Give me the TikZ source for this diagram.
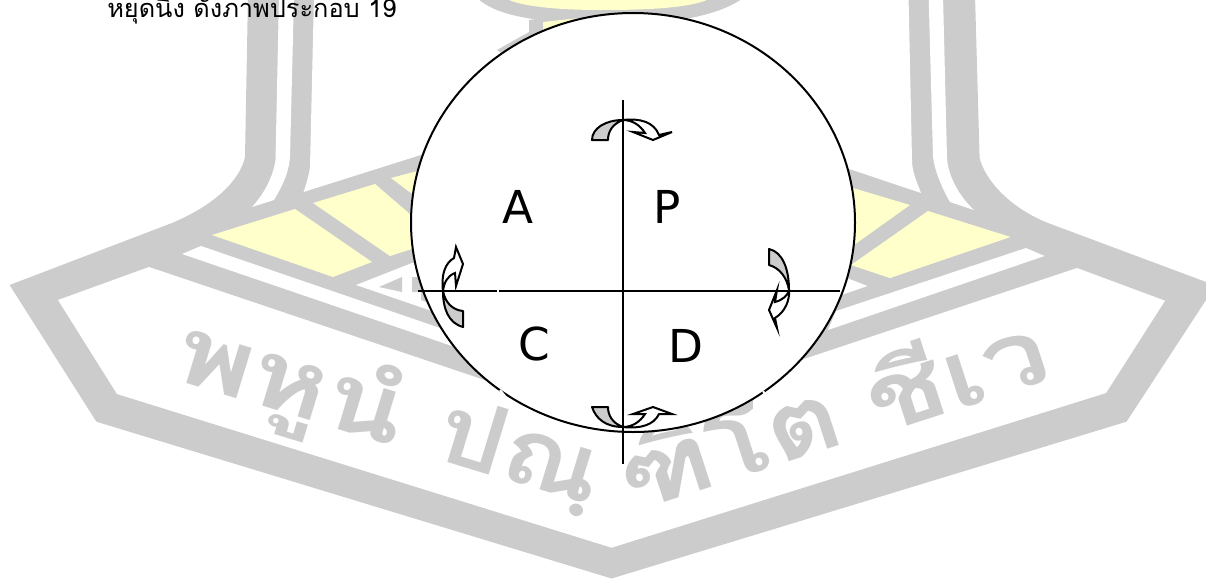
\documentclass[tikz,border=0pt]{standalone}
\usepackage{fontspec}
\setmainfont{DejaVu Sans}
\newfontfamily\thaifont[Script=Thai]{Loma}
\definecolor{wmgrey}{HTML}{CCCCCC}
\definecolor{wmyellow}{HTML}{FFFFCC}
\newcommand{\wide}[2][1.24]{\scalebox{#1}[1]{#2}}
\tikzset{
  band/.style={fill=wmgrey,draw=none},
  gap/.style={fill=white,draw=none},
  pale/.style={fill=wmyellow,draw=none},
  letter/.style={font=\fontsize{34}{40}\selectfont,inner sep=0pt,text=black},
  axis/.style={draw=black,line width=1.5pt},
  crescent/.style={fill=wmgrey,draw=black,line width=1.5pt,line join=round},
  swoop/.style={fill=white,draw=black,line width=1.5pt,line join=miter},
  motto/.style={font=\thaifont\bfseries\fontsize{71}{85}\selectfont,text=wmgrey,inner sep=0pt,anchor=base west}
}
\begin{document}
\begin{tikzpicture}[x=0.75pt,y=-0.75pt]
\useasboundingbox (0,0) rectangle (1206,579);
\clip (0,0) rectangle (1206,579);
% watermark body
\path[band] (9.6,285) -- (172,223) .. controls (215,205) and (240,180) .. (245,157) -- (248,-5) -- (975,-5) -- (979.6,158) .. controls (985,180) and (1010,208) .. (1048,223) -- (1215.5,285.5) -- (1126.5,421.7) -- (611.6,578.5) -- (96.4,421.7) -- cycle;
% white interiors
\path[gap] (314,-5) -- (310,167) .. controls (309,175) and (306,185) .. (303.5,192) -- (620,92) -- (921,193) .. controls (917,182) and (912,172) .. (912,160) -- (908.5,-5) -- cycle;
\path[gap] (279,-5) -- (275.5,160) .. controls (273,178) and (263,195) .. (252,207) -- (274,200) .. controls (283,185) and (289,172) .. (290,157) -- (294,-5) -- cycle;
\path[gap] (928.6,-5) -- (933,157) .. controls (935,172) and (942,188) .. (950,202) -- (974,210) .. controls (958,195) and (948,175) .. (947,158) -- (943,-5) -- cycle;
\path[gap] (149,267) -- (58,300) -- (117,394) -- (611.6,547.7) -- (1106,393) -- (1165,300.7) -- (1077,268) -- (780,367) -- (640,300) -- (520,392) -- cycle;
\path[gap] (182,254) -- (201,246) -- (440,328) -- (455,347) -- cycle;
\path[gap] (1026,248) -- (1044.5,256) -- (828,330) -- (836,311) -- cycle;
\path[gap] (356,285) -- (412,263) -- (445,263) -- (445,316) -- (429,310) -- cycle;
\path[gap] (847,278) -- (867.5,286) -- (841.6,295) -- (830,290) -- cycle;
\path[band] (379,287) -- (402,277) -- (402,292) -- cycle;
\path[band] (412,277) -- (430,277) -- (430,303) -- (421,300) -- (421,292) -- (412,292) -- cycle;
% yellow panels
\path[pale] (212,235) -- (295,209) -- (372,262) -- (333,277) -- cycle;
\path[pale] (313,203) -- (375,184) -- (440,240) -- (390,256) -- cycle;
\path[pale] (391,178) -- (440,165) -- (440,215) -- cycle;
\path[pale] (853,188) -- (910,205) -- (840,255) -- (840,180) -- cycle;
\path[pale] (928,211) -- (1010.5,237) -- (890,278) -- (851,265) -- cycle;
% top emblem
\path[band] (474,-5) .. controls (490,12) and (520,22) .. (600,24) .. controls (660,26) and (720,18) .. (747,-5) -- cycle;
\path[pale] (501,-5) .. controls (510,5) and (550,10) .. (600,10) .. controls (650,10) and (700,8) .. (716,-5) -- cycle;
\path[band] (529,20) -- (529,32) -- (497,50) -- (501,53) -- (570,30) -- (570,15) -- cycle;
\path[pale] (543,22) -- (580,18) -- (580,40) -- (543,32) -- cycle;
% motto
\node[motto,rotate=-17] (mottoa) at (170,378) {\wide{พหูนํ}};
\node[motto,rotate=-17] (mottob) at (431,457) {\wide[1.13]{ปณฺ}};
\node[motto,rotate=18] (mottoc) at (630,514) {\wide[1.2]{ฑิโต}};
\node[motto,rotate=18] (mottod) at (878,436) {\wide{ชีเว}};
% caption
\node[anchor=base west,inner sep=0pt,font=\thaifont\fontsize{19}{22}\selectfont,text=black] (cap) at (107,17) {หยุดนิ่ง ดังภาพประกอบ 19};
% circle
\draw[fill=white,draw=black,line width=1.5pt] (633,222.5) ellipse [x radius=222, y radius=209.5];
\coordinate (hl) at (418,290.5);
\coordinate (hr) at (840,290.5);
\coordinate (vt) at (623,100);
\coordinate (vb) at (623,464);
\draw[axis] (hl) -- (hr);
\draw[axis] (vt) -- (vb);
% small breaks
\draw[white,line width=1.5pt] (498,288) -- (498,293);
\draw[white,line width=1.5pt] (500,390) -- (505,396);
\draw[white,line width=1.5pt] (763,391) -- (767,397);
% top arrow
\path[crescent] (592,140) .. controls (592,128) and (606,120) .. (623,120) .. controls (612,124) and (608,132) .. (608,140) -- cycle;
\path[swoop] (623,120) .. controls (640,118) and (654,122) .. (659,135) -- (672,132) -- (653,140) -- (633,132) -- (645,133) .. controls (640,125) and (632,120) .. (623,120) -- cycle;
% bottom arrow
\path[crescent] (592,407) .. controls (596,419) and (606,427) .. (623,427) .. controls (612,423) and (608,415) .. (608,407) -- cycle;
\path[swoop] (623,427) .. controls (640,429) and (654,425) .. (659,414) -- (672,414) -- (653,407) -- (633,414) -- (645,414) .. controls (640,422) and (632,427) .. (623,427) -- cycle;
% right arrow
\path[crescent] (769,249) .. controls (783,252) and (789,270) .. (789,290) .. controls (787,278) and (780,268) .. (769,265) -- cycle;
\path[swoop] (789,290) .. controls (790,300) and (785,312) .. (775,318) -- (777,328) -- (769,310) -- (777,290) -- (775,302) .. controls (783,300) and (788,295) .. (789,290) -- cycle;
% left arrow
\path[crescent] (463,327) .. controls (448,323) and (443,308) .. (443,291) .. controls (445,302) and (452,310) .. (463,311) -- cycle;
\path[swoop] (443,291) .. controls (441,275) and (445,263) .. (454,258) -- (456,247) -- (463,264) -- (456,286) -- (455,273) .. controls (447,276) and (444,283) .. (443,291) -- cycle;
% labels
\node[letter] (A) at (518,207) {A};
\node[letter] (P) at (667,207) {P};
\node[letter] (C) at (534,344) {C};
\node[letter] (D) at (686,346) {D};
\end{tikzpicture}
\end{document}
